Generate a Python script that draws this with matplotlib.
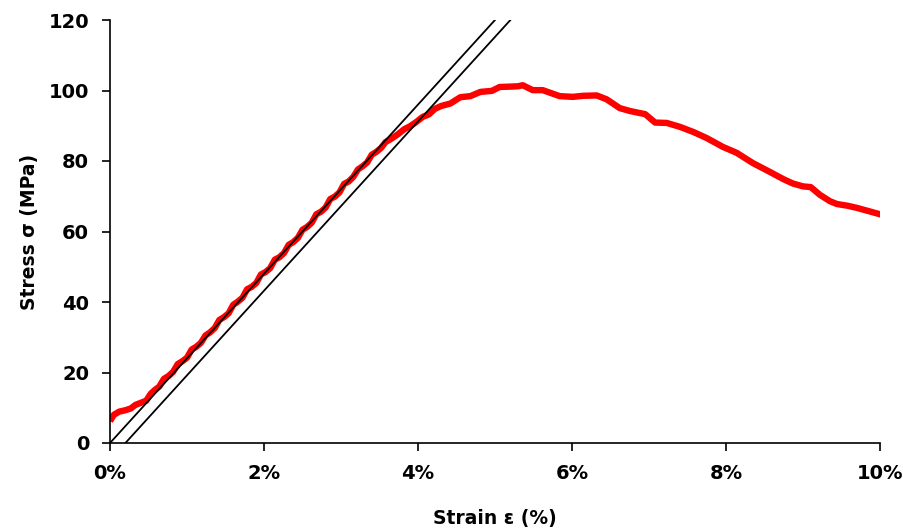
import numpy as np
import matplotlib
matplotlib.use("Agg")
import matplotlib.pyplot as plt
from matplotlib.ticker import FuncFormatter

# measured stress-strain curve (strain in %, stress in MPa)
strain = [0.00, 0.05, 0.12, 0.20, 0.27, 0.33, 0.40, 0.47, 0.53, 0.58,
          0.64, 0.70, 0.76, 0.82, 0.88, 0.94, 1.00, 1.06, 1.12, 1.18,
          1.24, 1.30, 1.36, 1.42, 1.48, 1.54, 1.60, 1.66, 1.72, 1.78,
          1.84, 1.90, 1.96, 2.02, 2.08, 2.14, 2.20, 2.26, 2.32, 2.38,
          2.44, 2.50, 2.56, 2.62, 2.68, 2.74, 2.80, 2.86, 2.92, 2.98,
          3.04, 3.10, 3.16, 3.22, 3.28, 3.34, 3.40, 3.46, 3.52, 3.58,
          3.66, 3.74, 3.82, 3.90, 3.98, 4.06, 4.14, 4.22, 4.30, 4.42,
          4.55, 4.68, 4.81, 4.96, 5.06, 5.20, 5.30, 5.36, 5.49, 5.62,
          5.84, 6.01, 6.15, 6.32, 6.45, 6.62, 6.75, 6.88, 6.95, 7.08,
          7.23, 7.40, 7.58, 7.75, 7.96, 8.14, 8.35, 8.57, 8.75, 8.87,
          9.00, 9.10, 9.22, 9.35, 9.44, 9.58, 9.70, 9.85, 10.03]
stress = [6.2, 8.0, 8.9, 9.3, 9.8, 10.8, 11.4, 12.0, 14.0, 15.0,
          16.0, 18.2, 19.0, 20.2, 22.4, 23.2, 24.2, 26.5, 27.3, 28.4,
          30.5, 31.4, 32.6, 34.9, 35.7, 36.8, 39.2, 40.1, 41.2, 43.6,
          44.3, 45.4, 47.8, 48.5, 49.6, 52.0, 52.7, 53.9, 56.2, 57.0,
          58.2, 60.5, 61.3, 62.5, 64.9, 65.6, 66.8, 69.2, 69.9, 71.1,
          73.5, 74.2, 75.5, 77.6, 78.5, 79.6, 81.8, 82.6, 83.7, 85.4,
          86.4, 87.6, 89.0, 89.9, 91.1, 92.5, 93.2, 94.8, 95.6, 96.3,
          98.1, 98.4, 99.6, 99.9, 101.0, 101.1, 101.2, 101.5, 100.1, 100.1,
          98.4, 98.2, 98.5, 98.6, 97.5, 95.0, 94.2, 93.6, 93.3, 90.9,
          90.8, 89.7, 88.2, 86.5, 84.0, 82.3, 79.4, 76.9, 74.8, 73.6,
          72.8, 72.6, 70.4, 68.6, 67.8, 67.3, 66.7, 65.8, 64.7]

# elastic line and 0.2 % offset line
modulus = 24.0
offset = 0.2
line_strain = [0.0, 5.6]

xticks = [0, 2, 4, 6, 8, 10]
yticks = [0, 20, 40, 60, 80, 100, 120]

plt.rcParams['font.family'] = ['DejaVu Sans']
plt.rcParams['font.weight'] = 'bold'

fig = plt.figure(figsize=(9.04, 5.32), dpi=100)
ax = fig.add_axes([110/904, 1-443/532, 770/904, 423/532])

ax.plot(strain, stress, color='#ff0000', lw=4.6, solid_capstyle='butt', zorder=2)
ls = np.array(line_strain)
ax.plot(ls, modulus*ls, color='black', lw=1.3, zorder=3)
ax.plot(ls+offset, modulus*ls, color='black', lw=1.3, zorder=3)

ax.set_xlim(0, 10)
ax.set_ylim(0, 120)
ax.set_xticks(xticks)
ax.set_yticks(yticks)
ax.xaxis.set_major_formatter(FuncFormatter(lambda v, p: f"{v:.0f}%"))

for s in ['top', 'right']:
    ax.spines[s].set_visible(False)
for s in ['left', 'bottom']:
    ax.spines[s].set_linewidth(1.2)
ax.tick_params(direction='out', length=6, width=1.2, labelsize=14, pad=9)
for lab in ax.get_xticklabels() + ax.get_yticklabels():
    lab.set_fontweight('bold')

ax.set_xlabel("Strain ε (%)", fontsize=13.5, fontweight='bold', labelpad=19)
ax.set_ylabel("Stress σ (MPa)", fontsize=13.5, fontweight='bold', labelpad=7)

fig.savefig("out.png", dpi=100)
